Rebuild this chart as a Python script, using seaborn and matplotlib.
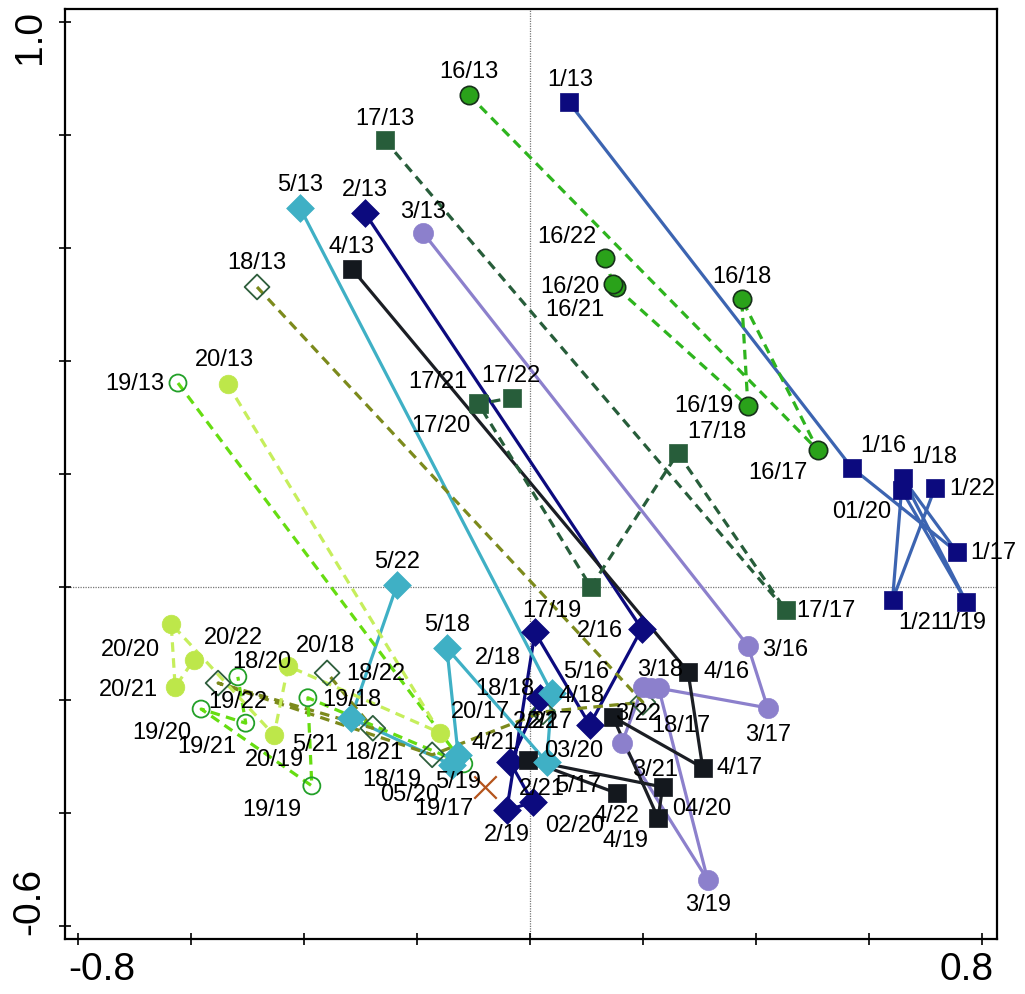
import matplotlib
matplotlib.use("Agg")
import matplotlib.pyplot as plt
import matplotlib.transforms as mtrans
import seaborn as sns
import pandas as pd
import numpy as np

sns.set_theme(style="white")
plt.rcParams["font.family"] = ["Liberation Sans", "DejaVu Sans"]

# ---------------- data (ordination scores) ----------------
g1_labels = ["1/13", "1/16", "1/17", "1/18", "1/19", "01/20", "1/21", "1/22"]
g1_x = [0.069, 0.570, 0.756, 0.660, 0.773, 0.658, 0.642, 0.717]
g1_y = [0.858, 0.211, 0.062, 0.193, -0.027, 0.172, -0.023, 0.175]

g2_labels = ["2/13", "2/16", "2/17", "2/18", "2/19", "02/20", "2/21", "2/22"]
g2_x = [-0.292, 0.198, 0.106, 0.009, -0.041, 0.005, -0.035, 0.018]
g2_y = [0.662, -0.074, -0.244, -0.080, -0.395, -0.381, -0.310, -0.196]

g3_labels = ["3/13", "3/16", "3/17", "3/18", "3/19", "03/20", "3/21", "3/22"]
g3_x = [-0.189, 0.386, 0.421, 0.228, 0.315, 0.163, 0.200, 0.214]
g3_y = [0.627, -0.104, -0.214, -0.179, -0.519, -0.276, -0.177, -0.179]

g4_labels = ["4/13", "4/16", "4/17", "4/18", "4/19", "04/20", "4/21", "4/22"]
g4_x = [-0.315, 0.280, 0.306, 0.147, 0.227, 0.235, -0.004, 0.154]
g4_y = [0.563, -0.150, -0.320, -0.230, -0.409, -0.354, -0.306, -0.365]

g5_labels = ["5/13", "5/16", "5/17", "5/18", "5/19", "05/20", "5/21", "5/22"]
g5_x = [-0.407, 0.039, 0.030, -0.147, -0.127, -0.138, -0.317, -0.235]
g5_y = [0.671, -0.188, -0.310, -0.108, -0.297, -0.315, -0.232, 0.004]

g16_labels = ["16/13", "16/17", "16/18", "16/19", "16/20", "16/21", "16/22"]
g16_x = [-0.108, 0.510, 0.375, 0.386, 0.152, 0.147, 0.133]
g16_y = [0.871, 0.242, 0.510, 0.320, 0.531, 0.536, 0.582]

g17_labels = ["17/13", "17/17", "17/18", "17/19", "17/20", "17/21", "17/22"]
g17_x = [-0.257, 0.453, 0.262, 0.108, -0.092, -0.090, -0.032]
g17_y = [0.791, -0.041, 0.237, 0.000, 0.326, 0.324, 0.335]

g18_labels = ["18/13", "18/17", "18/18", "18/19", "18/20", "18/21", "18/22"]
g18_x = [-0.483, 0.200, 0.023, -0.173, -0.552, -0.278, -0.359]
g18_y = [0.531, -0.204, -0.221, -0.297, -0.170, -0.250, -0.152]

g19_labels = ["19/13", "19/17", "19/18", "19/19", "19/20", "19/21", "19/22"]
g19_x = [-0.623, -0.117, -0.393, -0.386, -0.582, -0.503, -0.517]
g19_y = [0.361, -0.313, -0.196, -0.352, -0.216, -0.241, -0.159]

g20_labels = ["20/13", "20/17", "20/18", "20/19", "20/20", "20/21", "20/22"]
g20_x = [-0.535, -0.159, -0.428, -0.453, -0.635, -0.628, -0.595]
g20_y = [0.359, -0.258, -0.140, -0.262, -0.065, -0.177, -0.129]

centroid_x = [-0.080]
centroid_y = [-0.354]

x_ticks = [-0.8, -0.6, -0.4, -0.2, 0.0, 0.2, 0.4, 0.6, 0.8]
x_ticklabels = ["-0.8", "", "", "", "", "", "", "", "0.8"]
y_ticks = [-0.6, -0.4, -0.2, 0.0, 0.2, 0.4, 0.6, 0.8, 1.0]
y_ticklabels = ["-0.6", "", "", "", "", "", "", "", "1.0"]

# ---------------- layout: label offsets (pixels) ----------------
label_offsets = {
    "1/13": (1, 22), "1/16": (31, 22), "1/17": (36, -1), "1/18": (32, 21),
    "1/19": (-3, -21), "01/20": (-40, -22), "1/21": (29, -23), "1/22": (37, -1),
    "2/13": (0, 23), "2/16": (-42, -2), "2/17": (-40, 3), "2/18": (-37, -26),
    "2/19": (0, -25), "02/20": (42, -24), "2/21": (32, -27), "2/22": (-4, -24),
    "3/13": (0, 21), "3/16": (37, -4), "3/17": (0, -27), "3/18": (1, 18),
    "3/19": (0, -25), "03/20": (-48, -8), "3/21": (12, -83), "3/22": (-13, -26),
    "4/13": (0, 22), "4/16": (39, 0), "4/17": (37, 0), "4/18": (-31, 21),
    "4/19": (-33, -23), "04/20": (39, -22), "4/21": (-33, 17), "4/22": (0, -23),
    "5/13": (0, 23), "5/16": (34, 21), "5/17": (31, -24), "5/18": (0, 23),
    "5/19": (0, -27), "05/20": (-42, -30), "5/21": (-36, -27), "5/22": (0, 23),
    "16/13": (0, 23), "16/17": (-40, -23), "16/18": (0, 22), "16/19": (-44, 0),
    "16/20": (-46, 0), "16/21": (-38, -26), "16/22": (-38, 21),
    "17/13": (0, 21), "17/17": (40, -1), "17/18": (39, 21), "17/19": (-39, -24),
    "17/20": (-37, -23), "17/21": (-41, 22), "17/22": (-1, 22),
    "18/13": (0, 24), "18/17": (38, -24), "18/18": (-38, 23), "18/19": (-40, -25),
    "18/20": (44, 21), "18/21": (1, -25), "18/22": (49, -1),
    "19/13": (-43, -1), "19/17": (-20, -45), "19/18": (44, -2), "19/19": (-40, -24),
    "19/20": (-39, -24), "19/21": (-39, -24), "19/22": (0, -25),
    "20/13": (-3, 24), "20/17": (40, 21), "20/18": (37, 20), "20/19": (0, -25),
    "20/20": (-41, -26), "20/21": (-47, -3), "20/22": (40, 22),
}
# tick-label shifts (pixels): first / last label moved inwards
x_label_shift = {"-0.8": 24, "0.8": -15}
y_label_shift = {"-0.6": 25, "1.0": -15}

# ---------------- styles ----------------
st = {
    1: dict(x=g1_x, y=g1_y, lab=g1_labels, line="#3c64b1", ls="-", marker="s", s=185,
            face="#0c0a7e", edge="#0c0a7e", elw=0.5),
    2: dict(x=g2_x, y=g2_y, lab=g2_labels, line="#0c0a7e", ls="-", marker="D", s=200,
            face="#0c0a7e", edge="#0c0a7e", elw=0.5),
    3: dict(x=g3_x, y=g3_y, lab=g3_labels, line="#8c80cc", ls="-", marker="o", s=210,
            face="#8c80cc", edge="#8c80cc", elw=0.5),
    4: dict(x=g4_x, y=g4_y, lab=g4_labels, line="#1b1e24", ls="-", marker="s", s=185,
            face="#14181e", edge="#14181e", elw=0.5),
    5: dict(x=g5_x, y=g5_y, lab=g5_labels, line="#3fb0c5", ls="-", marker="D", s=200,
            face="#3fb0c5", edge="#3fb0c5", elw=0.5),
    16: dict(x=g16_x, y=g16_y, lab=g16_labels, line="#2eb41e", ls="--", marker="o", s=175,
             face="#2aa21a", edge="#17301a", elw=1.2),
    17: dict(x=g17_x, y=g17_y, lab=g17_labels, line="#275d3a", ls="--", marker="s", s=185,
             face="#275d3a", edge="#275d3a", elw=0.5),
    18: dict(x=g18_x, y=g18_y, lab=g18_labels, line="#7c8a1c", ls="--", marker="D", s=160,
             face="none", edge="#2e5e3c", elw=1.3),
    19: dict(x=g19_x, y=g19_y, lab=g19_labels, line="#66dd11", ls="--", marker="o", s=150,
             face="none", edge="#22a028", elw=1.3),
    20: dict(x=g20_x, y=g20_y, lab=g20_labels, line="#c6ee5c", ls="--", marker="o", s=180,
             face="#bde74a", edge="#bde74a", elw=0.5),
}
line_order = [1, 2, 3, 4, 5, 16, 17, 18, 19, 20]
marker_order = [19, 20, 18, 16, 17, 1, 2, 3, 4, 5]

fig = plt.figure(figsize=(10.25, 9.94), dpi=100)
ax = fig.add_axes([65 / 1025, 1 - 939 / 994, 932 / 1025, 930 / 994])

# reference lines
ax.axhline(0, color="#777777", lw=0.9, ls=(0, (1, 1)), zorder=0.5)
ax.axvline(0, color="#777777", lw=0.9, ls=(0, (1, 1)), zorder=0.5)

# trajectories
for k in line_order:
    sp = st[k]
    df = pd.DataFrame({"x": sp["x"], "y": sp["y"]})
    sns.lineplot(data=df, x="x", y="y", sort=False, estimator=None, color=sp["line"],
                 lw=2.3, ax=ax, legend=False, zorder=1)
    ln = ax.lines[-1]
    if sp["ls"] == "--":
        ln.set_dashes([3.0, 2.0])

# points
for k in marker_order:
    sp = st[k]
    df = pd.DataFrame({"x": sp["x"], "y": sp["y"]})
    sns.scatterplot(data=df, x="x", y="y", marker=sp["marker"], s=sp["s"],
                    color=sp["edge"] if sp["face"] == "none" else sp["face"],
                    edgecolor=sp["edge"], linewidth=sp["elw"], ax=ax, legend=False,
                    zorder=3)
    coll = ax.collections[-1]
    if sp["face"] == "none":
        coll.set_facecolor("none")
        coll.set_edgecolor(sp["edge"])

# centroid cross
sns.scatterplot(x=centroid_x, y=centroid_y, marker="x", s=260, color="#b5541c",
                linewidth=1.6, ax=ax, legend=False, zorder=3)

# point labels
for k in line_order:
    sp = st[k]
    for xv, yv, lab in zip(sp["x"], sp["y"], sp["lab"]):
        dx, dy = label_offsets.get(lab, (0, 22))
        ax.annotate(lab, (xv, yv), xytext=(dx, dy), textcoords="offset pixels",
                    ha="center", va="center", fontsize=17, color="black",
                    zorder=4, annotation_clip=False)

ax.set_xlim(-0.823, 0.827)
ax.set_ylim(-0.623, 1.023)
ax.set_xticks(x_ticks)
ax.set_xticklabels(x_ticklabels)
ax.set_yticks(y_ticks)
ax.set_yticklabels(y_ticklabels, rotation=90, va="center")
ax.tick_params(axis="both", direction="inout", length=9, width=1.2, labelsize=28,
               colors="black", bottom=True, left=True)
ax.tick_params(axis="x", pad=5)
ax.tick_params(axis="y", pad=8)
ax.set_xlabel("")
ax.set_ylabel("")
for s in ax.spines.values():
    s.set_color("black")
    s.set_linewidth(1.6)
ax.grid(False)

for t in ax.get_xticklabels():
    sh = x_label_shift.get(t.get_text(), 0)
    if sh:
        t.set_transform(t.get_transform() + mtrans.ScaledTranslation(sh / 100, 0, fig.dpi_scale_trans))
for t in ax.get_yticklabels():
    sh = y_label_shift.get(t.get_text(), 0)
    if sh:
        t.set_transform(t.get_transform() + mtrans.ScaledTranslation(0, sh / 100, fig.dpi_scale_trans))

fig.savefig("out.png", dpi=100)
